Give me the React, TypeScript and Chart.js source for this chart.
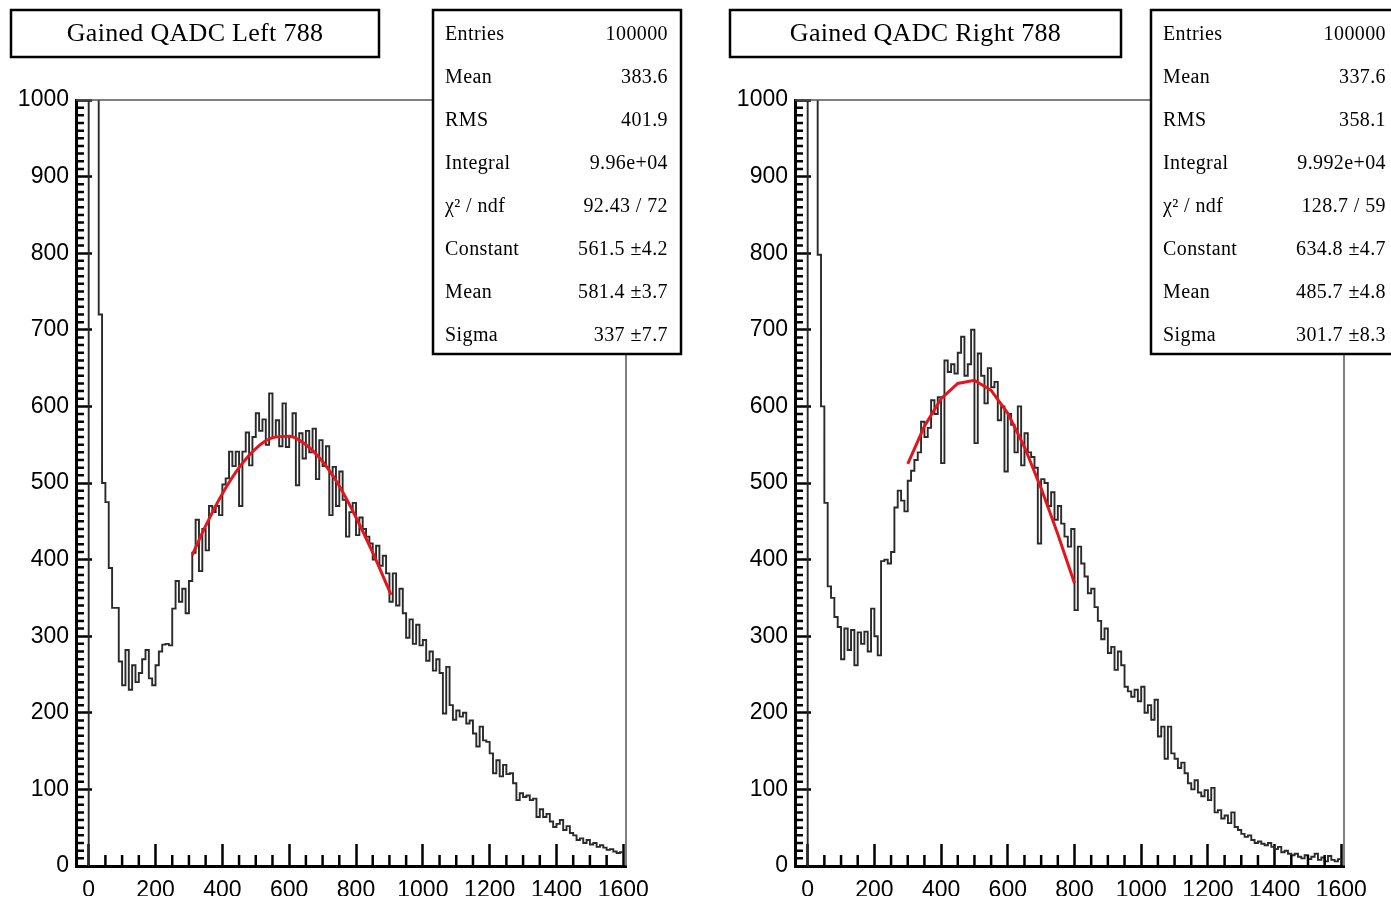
import React, { useEffect, useRef } from 'react';
import { Chart, registerables } from 'chart.js';

Chart.register(...registerables);

// ---------------- data ----------------
const BIN_WIDTH = 10;

// counts per 10-unit bin, bins starting at 0, 10, 20, ... 1590
const leftCounts = [
  2600, 2200, 1500, 720, 500, 475, 389, 337, 337, 267,
  236, 282, 230, 262, 240, 252, 270, 282, 245, 236,
  262, 280, 289, 290, 288, 336, 372, 345, 362, 330,
  372, 409, 452, 385, 440, 412, 470, 462, 470, 458,
  498, 506, 541, 522, 541, 470, 541, 566, 523, 560,
  591, 568, 583, 550, 617, 560, 582, 548, 604, 547,
  560, 591, 497, 565, 532, 568, 540, 571, 505, 556,
  522, 548, 458, 521, 470, 515, 478, 430, 462, 474,
  432, 455, 440, 430, 421, 400, 418, 392, 405, 382,
  345, 382, 340, 362, 330, 298, 322, 290, 315, 288,
  295, 268, 280, 255, 270, 252, 199, 260, 210, 191,
  203, 195, 200, 186, 190, 173, 156, 182, 164, 162,
  147, 121, 138, 117, 132, 120, 121, 108, 86, 95,
  90, 92, 86, 88, 64, 74, 64, 68, 58, 51,
  55, 60, 47, 52, 43, 40, 34, 36, 30, 34,
  28, 30, 25, 27, 24, 21, 22, 19, 17, 18,
];

const rightCounts = [
  2800, 2400, 1800, 798, 600, 474, 365, 350, 325, 312,
  270, 310, 282, 308, 262, 305, 290, 306, 280, 336,
  300, 275, 398, 400, 395, 410, 468, 490, 477, 463,
  503, 516, 530, 540, 580, 560, 572, 608, 590, 612,
  526, 660, 645, 655, 643, 670, 691, 640, 655, 700,
  552, 669, 640, 604, 650, 625, 632, 582, 600, 515,
  590, 576, 540, 600, 523, 565, 540, 534, 520, 421,
  505, 500, 470, 488, 452, 470, 447, 430, 417, 440,
  334, 417, 395, 378, 356, 362, 338, 320, 296, 310,
  278, 286, 256, 280, 262, 234, 228, 221, 230, 215,
  234, 200, 210, 191, 217, 169, 182, 140, 182, 147,
  140, 128, 135, 121, 108, 100, 112, 96, 91, 99,
  86, 102, 70, 73, 62, 66, 56, 70, 51, 47,
  42, 38, 40, 34, 30, 32, 29, 27, 30, 25,
  22, 25, 18, 20, 16, 14, 16, 12, 10, 14,
  9, 12, 16, 8, 11, 6, 13, 8, 6, 9,
];

// red fit curves
const leftFitX = [310, 350, 400, 450, 500, 550, 600, 650, 700, 750, 800, 850, 900, 905];
const leftFitY = [406, 444, 486, 520, 545, 559, 561, 550, 528, 496, 455, 409, 359, 354];
const rightFitX = [300, 350, 400, 450, 500, 550, 600, 650, 700, 750, 800];
const rightFitY = [525, 574, 610, 630, 634, 621, 591, 547, 493, 433, 369];

const xTickValues = [0, 200, 400, 600, 800, 1000, 1200, 1400, 1600];
const yTickValues = [0, 100, 200, 300, 400, 500, 600, 700, 800, 900, 1000];

const leftTitle = 'Gained QADC Left 788';
const rightTitle = 'Gained QADC Right 788';

const statsLabels = ['Entries', 'Mean', 'RMS', 'Integral', 'χ² / ndf', 'Constant', 'Mean', 'Sigma'];
const leftStatsValues = ['100000', '383.6', '401.9', '9.96e+04', '92.43 / 72', '561.5 ±4.2', '581.4 ±3.7', '337 ±7.7'];
const rightStatsValues = ['100000', '337.6', '358.1', '9.992e+04', '128.7 / 59', '634.8 ±4.7', '485.7 ±4.8', '301.7 ±8.3'];

// ---------------- style / layout ----------------
const X_MIN = -38;
const X_MAX = 1608;
const Y_MIN = 0;
const Y_MAX = 1000;
const X_MINOR = 50;
const X_MAJOR = 200;
const Y_MINOR = 10;
const Y_MAJOR = 100;

const TICK_FONT = { family: '"Liberation Sans", Arial, sans-serif', size: 23 };
const SERIF = '"Liberation Serif", "Times New Roman", serif';

function histPoints(counts: number[]) {
  const pts: { x: number; y: number }[] = [{ x: 0, y: 0 }];
  counts.forEach((c, i) => pts.push({ x: i * BIN_WIDTH, y: c }));
  pts.push({ x: counts.length * BIN_WIDTH, y: counts[counts.length - 1] });
  return pts;
}

function fitPoints(xs: number[], ys: number[]) {
  return xs.map((x, i) => ({ x, y: ys[i] }));
}

const rootPlugin = {
  id: 'rootStyle',
  afterDraw(chart: any, _args: any, opts: any) {
    const ctx: CanvasRenderingContext2D = chart.ctx;
    const { left, right, top, bottom } = chart.chartArea;
    const xs = chart.scales.x;
    const ys = chart.scales.y;
    ctx.save();
    // thin frame top/right
    ctx.strokeStyle = '#555';
    ctx.lineWidth = 1.5;
    ctx.beginPath();
    ctx.moveTo(left, top);
    ctx.lineTo(right, top);
    ctx.lineTo(right, bottom);
    ctx.stroke();
    // minor ticks
    ctx.strokeStyle = '#000';
    ctx.lineWidth = 2.5;
    ctx.beginPath();
    for (let v = Y_MIN; v <= Y_MAX; v += Y_MINOR) {
      if (v % Y_MAJOR === 0) continue;
      const py = ys.getPixelForValue(v);
      ctx.moveTo(left, py);
      ctx.lineTo(left + 8, py);
    }
    for (let v = 0; v <= xTickValues[xTickValues.length - 1]; v += X_MINOR) {
      if (v % X_MAJOR === 0) continue;
      const px = xs.getPixelForValue(v);
      ctx.moveTo(px, bottom);
      ctx.lineTo(px, bottom - 11);
    }
    ctx.stroke();

    // title box
    const tb = opts.titleBox;
    ctx.fillStyle = '#fff';
    ctx.fillRect(tb.x, tb.y, tb.w, tb.h);
    ctx.strokeStyle = '#000';
    ctx.lineWidth = 2.5;
    ctx.strokeRect(tb.x, tb.y, tb.w, tb.h);
    ctx.fillStyle = '#000';
    ctx.font = `26px ${SERIF}`;
    (ctx as any).letterSpacing = '0.3px';
    ctx.textAlign = 'center';
    ctx.textBaseline = 'middle';
    ctx.fillText(opts.title, tb.x + tb.w / 2, tb.y + tb.h / 2 + 1);

    // stats box
    const sb = opts.statsBox;
    ctx.fillStyle = '#fff';
    ctx.fillRect(sb.x, sb.y, sb.w, sb.h);
    ctx.strokeStyle = '#000';
    ctx.lineWidth = 2.5;
    ctx.strokeRect(sb.x, sb.y, sb.w, sb.h);
    ctx.fillStyle = '#000';
    ctx.font = `20px ${SERIF}`;
    (ctx as any).letterSpacing = '0.4px';
    const rowH = sb.h / opts.labels.length;
    opts.labels.forEach((lab: string, i: number) => {
      const cy = sb.y + rowH * (i + 0.5) + 3;
      ctx.textAlign = 'left';
      ctx.fillText(lab, sb.x + 12, cy);
      ctx.textAlign = 'right';
      ctx.fillText(opts.values[i], sb.x + sb.w - 13, cy);
    });
    ctx.restore();
  },
};

type PanelProps = {
  offset: number;
  width: number;
  padLeft: number;
  padRight: number;
  counts: number[];
  fitX: number[];
  fitY: number[];
  smoothFit: boolean;
  title: string;
  titleBox: { x: number; y: number; w: number; h: number };
  statsBox: { x: number; y: number; w: number; h: number };
  values: string[];
};

function Panel(p: PanelProps) {
  const ref = useRef<HTMLCanvasElement>(null);
  useEffect(() => {
    const chart = new Chart(ref.current as HTMLCanvasElement, {
      type: 'line',
      data: {
        datasets: [
          {
            data: fitPoints(p.fitX, p.fitY),
            borderColor: '#e3161d',
            borderWidth: 3,
            pointRadius: 0,
            fill: false,
            cubicInterpolationMode: p.smoothFit ? 'monotone' : 'default',
            tension: 0,
            order: 0,
          } as any,
          {
            data: histPoints(p.counts),
            borderColor: '#2a2a2a',
            borderWidth: 1.9,
            pointRadius: 0,
            fill: false,
            stepped: true,
            order: 1,
          } as any,
        ],
      },
      options: {
        responsive: false,
        animation: false,
        events: [],
        layout: { padding: { left: p.padLeft, right: p.padRight, top: 100, bottom: 8 } },
        plugins: {
          legend: { display: false },
          tooltip: { enabled: false },
          rootStyle: { title: p.title, titleBox: p.titleBox, statsBox: p.statsBox, labels: statsLabels, values: p.values },
        } as any,
        scales: {
          x: {
            type: 'linear',
            position: 'bottom',
            min: X_MIN,
            max: X_MAX,
            afterBuildTicks: (s: any) => {
              s.ticks = xTickValues.map((v) => ({ value: v }));
            },
            afterFit: (s: any) => {
              s.height = 30;
            },
            ticks: {
              callback: (v: any) => String(v),
              font: TICK_FONT,
              color: '#000',
              padding: 33,
              maxRotation: 0,
              autoSkip: false,
            },
            grid: { drawOnChartArea: false, drawTicks: true, tickLength: -22, tickWidth: 2.5, tickColor: '#000' },
            border: { display: true, width: 3, color: '#000' },
          },
          y: {
            type: 'linear',
            position: 'left',
            min: Y_MIN,
            max: Y_MAX,
            afterBuildTicks: (s: any) => {
              s.ticks = yTickValues.map((v) => ({ value: v }));
            },
            afterFit: (s: any) => {
              s.width = 60;
            },
            ticks: {
              callback: (v: any) => String(v),
              font: TICK_FONT,
              color: '#000',
              padding: 23,
              autoSkip: false,
            },
            grid: { drawOnChartArea: false, drawTicks: true, tickLength: -16, tickWidth: 2.5, tickColor: '#000' },
            border: { display: true, width: 3, color: '#000' },
          },
        } as any,
      },
      plugins: [rootPlugin],
    });
    return () => chart.destroy();
  }, []);
  return (
    <canvas
      ref={ref}
      width={p.width}
      height={904}
      style={{ position: 'absolute', left: p.offset, top: 0, width: p.width, height: 904 }}
    />
  );
}

export default function App() {
  return (
    <div style={{ position: 'absolute', left: 0, top: 0, width: 1391, height: 904, background: '#fff', overflow: 'hidden' }}>
      <Panel
        offset={0}
        width={696}
        padLeft={16}
        padRight={70}
        counts={leftCounts}
        fitX={leftFitX}
        fitY={leftFitY}
        smoothFit={true}
        title={leftTitle}
        titleBox={{ x: 11, y: 10, w: 368, h: 47 }}
        statsBox={{ x: 433, y: 10, w: 248, h: 344 }}
        values={leftStatsValues}
      />
      <Panel
        offset={696}
        width={730}
        padLeft={39}
        padRight={82}
        counts={rightCounts}
        fitX={rightFitX}
        fitY={rightFitY}
        smoothFit={false}
        title={rightTitle}
        titleBox={{ x: 34, y: 10, w: 391, h: 47 }}
        statsBox={{ x: 455, y: 10, w: 248, h: 344 }}
        values={rightStatsValues}
      />
    </div>
  );
}
